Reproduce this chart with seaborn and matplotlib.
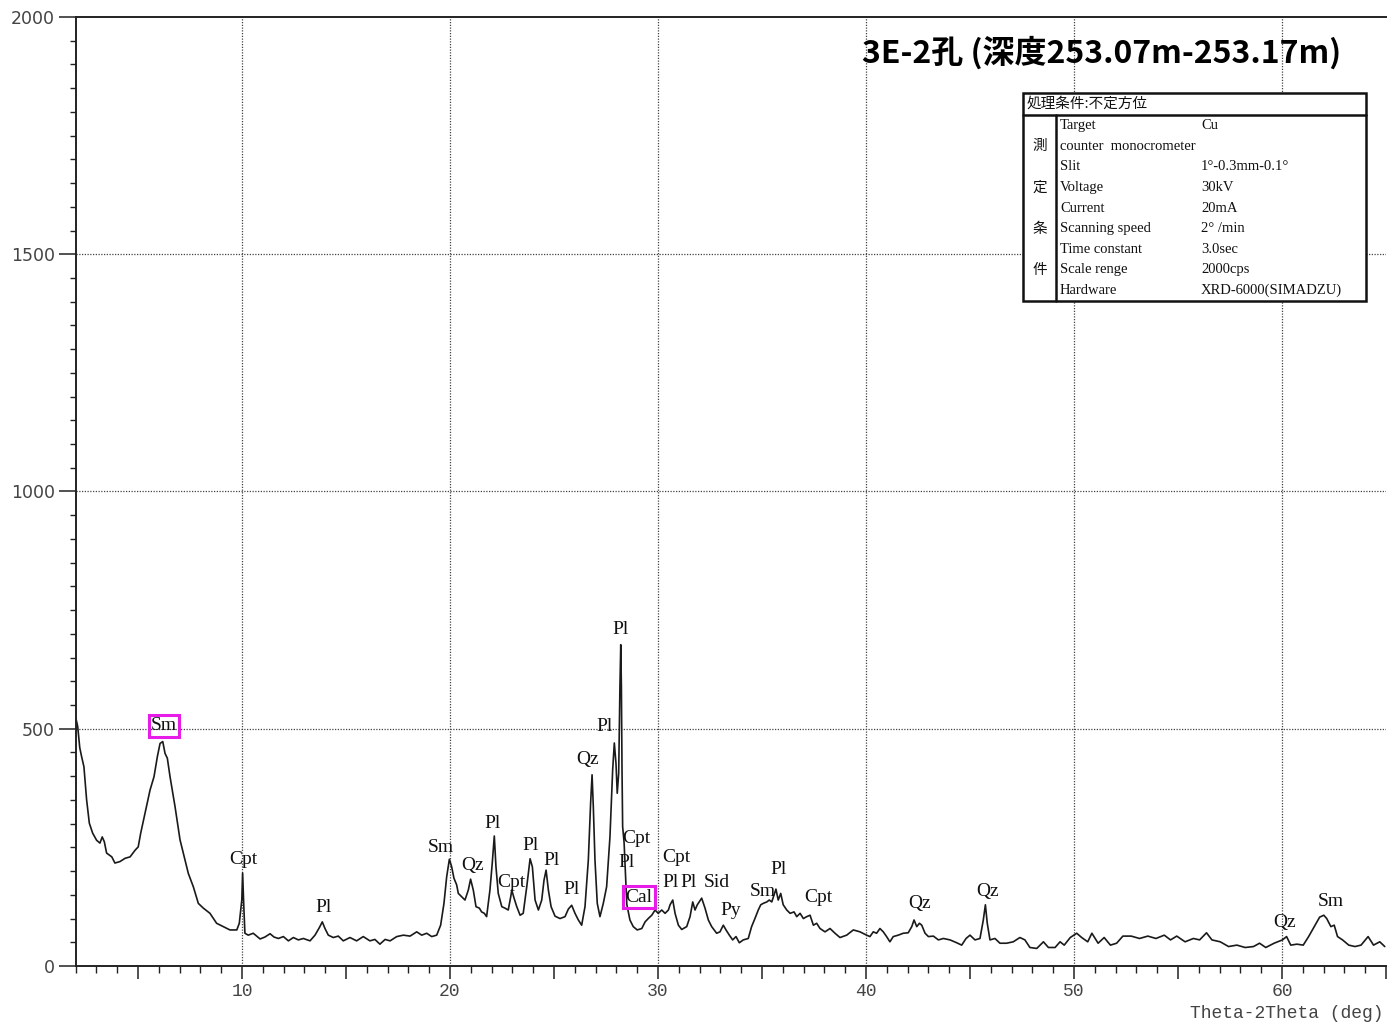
import matplotlib
matplotlib.use("Agg")
import matplotlib.pyplot as plt
from matplotlib.ticker import MultipleLocator, FuncFormatter
from matplotlib.patches import Rectangle
from matplotlib.lines import Line2D
import seaborn as sns
import pandas as pd

# XRD scan, 2θ (deg) and intensity (cps)
two_theta = [
    2.00, 2.10, 2.20, 2.29, 2.40, 2.53, 2.66, 2.82, 3.01, 3.17, 3.28, 3.38, 3.49, 3.74, 3.89,
    4.13, 4.38, 4.62, 4.86, 5.01, 5.13, 5.34, 5.58, 5.77, 5.93, 6.06, 6.19, 6.30, 6.41, 6.54,
    6.78, 7.02, 7.26, 7.42, 7.66, 7.90, 8.14, 8.46, 8.78, 9.10, 9.42, 9.75, 9.87, 9.99, 10.03,
    10.08, 10.14, 10.30, 10.54, 10.87, 11.10, 11.35, 11.54, 11.75, 11.99, 12.23, 12.47, 12.71,
    12.95, 13.27, 13.51, 13.72, 13.86, 13.99, 14.15, 14.39, 14.63, 14.87, 15.19, 15.51, 15.83,
    16.15, 16.39, 16.63, 16.88, 17.12, 17.44, 17.76, 18.08, 18.40, 18.64, 18.88, 19.12, 19.36,
    19.55, 19.71, 19.84, 19.97, 20.08, 20.19, 20.32, 20.40, 20.56, 20.72, 20.88, 20.99, 21.12,
    21.25, 21.41, 21.52, 21.65, 21.76, 21.92, 22.03, 22.13, 22.21, 22.32, 22.49, 22.64, 22.80,
    22.92, 22.97, 23.08, 23.21, 23.37, 23.52, 23.69, 23.85, 23.96, 24.09, 24.25, 24.41, 24.52,
    24.62, 24.73, 24.86, 25.05, 25.29, 25.53, 25.69, 25.85, 26.01, 26.17, 26.33, 26.49, 26.65,
    26.76, 26.83, 26.89, 26.97, 27.08, 27.21, 27.37, 27.53, 27.69, 27.82, 27.90, 27.98, 28.04,
    28.11, 28.17, 28.21, 28.24, 28.27, 28.30, 28.37, 28.43, 28.50, 28.65, 28.81, 29.00, 29.22,
    29.38, 29.53, 29.70, 29.86, 30.01, 30.18, 30.34, 30.50, 30.58, 30.71, 30.82, 30.98, 31.14,
    31.38, 31.54, 31.67, 31.78, 31.89, 32.10, 32.26, 32.42, 32.58, 32.82, 32.98, 33.14, 33.27,
    33.43, 33.59, 33.75, 33.91, 34.10, 34.34, 34.50, 34.66, 34.82, 34.94, 35.06, 35.23, 35.35,
    35.47, 35.67, 35.78, 35.90, 36.02, 36.19, 36.35, 36.54, 36.67, 36.83, 36.99, 37.15, 37.31,
    37.47, 37.63, 37.79, 38.03, 38.27, 38.51, 38.75, 39.07, 39.39, 39.71, 40.03, 40.19, 40.35,
    40.51, 40.67, 40.83, 40.99, 41.15, 41.31, 41.55, 41.79, 42.03, 42.20, 42.31, 42.44, 42.57,
    42.68, 42.84, 43.00, 43.24, 43.48, 43.72, 44.04, 44.36, 44.60, 44.81, 45.00, 45.24, 45.48,
    45.64, 45.74, 45.83, 45.96, 46.20, 46.44, 46.76, 47.08, 47.40, 47.64, 47.88, 48.21, 48.53,
    48.77, 49.09, 49.33, 49.53, 49.82, 50.13, 50.37, 50.66, 50.86, 51.16, 51.45, 51.75, 52.05,
    52.35, 52.75, 53.15, 53.55, 53.94, 54.34, 54.64, 54.94, 55.34, 55.74, 56.04, 56.37, 56.63,
    57.03, 57.43, 57.83, 58.23, 58.63, 58.92, 59.22, 59.62, 60.02, 60.22, 60.42, 60.72, 61.02,
    61.28, 61.55, 61.81, 62.01, 62.15, 62.35, 62.51, 62.67, 62.91, 63.21, 63.51, 63.80, 64.14,
    64.40, 64.70, 64.94,
]
intensity = [
    525, 505, 460, 441, 420, 350, 301, 280, 265, 259, 272, 262, 238, 230, 217,
    220, 227, 230, 244, 251, 280, 322, 371, 399, 441, 469, 473, 448, 438, 399,
    336, 266, 223, 195, 167, 132, 122, 111, 90, 83, 76, 76, 90, 139, 196,
    133, 69, 65, 69, 57, 61, 68, 61, 58, 62, 53, 60, 55,
    58, 53, 65, 81, 93, 79, 65, 60, 63, 53, 60, 53, 62,
    53, 56, 46, 56, 53, 62, 65, 63, 72, 65, 69, 62, 65,
    86, 132, 188, 225, 209, 185, 171, 153, 146, 139, 160, 183, 160,
    125, 122, 114, 111, 104, 160, 216, 274, 209, 153, 125, 122, 118,
    146, 160, 143, 125, 107, 111, 167, 226, 209, 139, 118, 139, 181,
    202, 160, 125, 105, 100, 104, 120, 128, 111, 97, 86, 125, 223,
    343, 403, 336, 223, 132, 104, 132, 167, 272, 413, 470, 427, 364,
    406, 589, 677, 589, 413, 294, 260, 200, 130, 97, 83, 76, 79,
    93, 100, 107, 118, 111, 118, 111, 118, 129, 139, 111, 86, 77,
    83, 104, 135, 118, 129, 143, 122, 97, 83, 69, 72, 86, 76,
    65, 55, 62, 49, 55, 58, 83, 100, 118, 129, 132, 135, 139,
    135, 162, 139, 153, 129, 118, 111, 114, 104, 111, 100, 104, 107,
    86, 90, 79, 72, 79, 69, 60, 65, 76, 72, 65, 62, 72,
    69, 79, 72, 62, 51, 62, 65, 69, 70, 83, 97, 83, 90,
    86, 69, 62, 63, 55, 58, 55, 49, 44, 58, 65, 55, 58,
    97, 129, 90, 55, 58, 48, 48, 51, 60, 55, 39, 37, 51,
    39, 39, 51, 44, 60, 69, 60, 51, 69, 48, 60, 44, 48,
    63, 63, 58, 63, 58, 65, 55, 63, 51, 58, 55, 70, 55,
    51, 41, 44, 39, 41, 48, 39, 48, 55, 62, 44, 46, 44,
    62, 83, 103, 107, 100, 83, 86, 62, 55, 44, 41, 44, 62,
    44, 51, 41,
]

# Phase identifications: label, 2θ, cps of the label anchor, boxed
phase_labels = [
    ("Sm", 6.25, 506, True), ("Cpt", 10.05, 225, False), ("Pl", 13.9, 124, False),
    ("Sm", 19.57, 249, False), ("Qz", 21.1, 211, False), ("Pl", 22.02, 301, False),
    ("Cpt", 22.93, 175, False), ("Pl", 23.85, 255, False), ("Pl", 24.86, 223, False),
    ("Pl", 25.82, 162, False), ("Qz", 26.6, 436, False), ("Pl", 27.41, 504, False),
    ("Pl", 28.18, 710, False), ("Cpt", 28.94, 268, False), ("Pl", 28.5, 219, False),
    ("Cal", 29.09, 145, True), ("Cpt", 30.87, 228, False), ("Pl", 30.58, 177, False),
    ("Pl", 31.49, 177, False), ("Sid", 32.83, 177, False), ("Py", 33.5, 116, False),
    ("Sm", 35.04, 158, False), ("Pl", 35.81, 204, False), ("Cpt", 37.69, 145, False),
    ("Qz", 42.59, 131, False), ("Qz", 45.86, 158, False), ("Qz", 60.14, 91, False),
    ("Sm", 62.35, 135, False),
]

title = "3E-2孔 (深度253.07m-253.17m)"
table_header = "処理条件:不定方位"
table_side = ["測", "定", "条", "件"]
table_keys = ["Target", "counter  monocrometer", "Slit", "Voltage", "Current",
              "Scanning speed", "Time constant", "Scale renge", "Hardware"]
table_values = ["Cu", "", "1°-0.3mm-0.1°", "30kV", "20mA", "2° /min", "3.0sec",
                "2000cps", "XRD-6000(SIMADZU)"]

sns.set_theme(style="white")
plt.rcParams["font.family"] = ["DejaVu Sans", "Noto Sans CJK JP"]

W, H = 1387, 1026
fig = plt.figure(figsize=(W / 100, H / 100), dpi=100)
ax = fig.add_axes([75.6 / W, 1 - 966 / H, (1386 - 75.6) / W, (966 - 17) / H])


def fx(px):
    return px / W


def fy(py):
    return 1 - py / H


df = pd.DataFrame({"two_theta": two_theta, "cps": intensity})
sns.lineplot(data=df, x="two_theta", y="cps", ax=ax, color="#1a1a1a",
             linewidth=1.2, sort=False, estimator=None)

ax.set_xlim(2, 65)
ax.set_ylim(0, 2000)
ax.set_xlabel("")
ax.set_ylabel("")

# Dotted reference grid
for gx in range(10, 61, 10):
    ax.axvline(gx, color="#444444", lw=0.9, ls=(0, (1, 1.2)), zorder=0)
for gy in (500, 1000, 1500):
    ax.axhline(gy, color="#444444", lw=0.9, ls=(0, (1, 1.2)), zorder=0)

for side in ("left", "bottom", "top"):
    ax.spines[side].set_visible(True)
    ax.spines[side].set_color("#222222")
    ax.spines[side].set_linewidth(1.4)
ax.spines["right"].set_visible(False)

ax.xaxis.set_major_locator(MultipleLocator(5))
ax.xaxis.set_minor_locator(MultipleLocator(1))
ax.xaxis.set_major_formatter(FuncFormatter(lambda v, p: f"{int(v)}" if int(v) % 10 == 0 and v >= 10 else ""))
ax.yaxis.set_major_locator(MultipleLocator(500))
ax.yaxis.set_minor_locator(MultipleLocator(50))
ax.tick_params(axis="x", which="major", direction="out", length=9, width=1.1,
               color="#222222", bottom=True, top=False, pad=3,
               labelsize=13, labelcolor="#444444")
ax.tick_params(axis="x", which="minor", direction="out", length=5, width=1.0,
               color="#222222", bottom=True, top=False)
ax.tick_params(axis="y", which="major", direction="out", length=12, width=1.1,
               color="#222222", left=True, right=False, pad=3,
               labelsize=12.5, labelcolor="#444444")
ax.tick_params(axis="y", which="minor", direction="out", length=4, width=1.0,
               color="#222222", left=True, right=False)
for lab in ax.get_xticklabels():
    lab.set_fontfamily("Liberation Mono")

fig.text(fx(1383), fy(1014), "Theta-2Theta (deg)", ha="right", va="center",
         fontsize=13, family="Liberation Mono", color="#444444")

# Phase labels
for name, x, y, boxed in phase_labels:
    kw = {}
    if boxed:
        kw["bbox"] = dict(boxstyle="square,pad=0.12", fc="none", ec="#e81ce8", lw=2.2)
    ax.text(x, y, name, ha="center", va="center", fontsize=14,
            family="Liberation Serif", color="#111111", **kw)

# Title
fig.text(fx(1102), fy(53), title, ha="center", va="center", fontsize=23,
         fontweight="bold", family=["Noto Sans CJK JP", "DejaVu Sans"], color="black")

# Measurement-condition table (opaque, drawn over the grid)
x0, x1, xd = 1023, 1366, 1056
y0, yh, y1 = 93, 115, 301
fig.patches.append(Rectangle((fx(x0), fy(y1)), fx(x1) - fx(x0), fy(y0) - fy(y1),
                             transform=fig.transFigure, fill=True, fc="white",
                             ec="#111111", lw=1.8, zorder=2))
fig.lines.append(Line2D([fx(x0), fx(x1)], [fy(yh), fy(yh)], transform=fig.transFigure,
                        color="#111111", lw=1.8, zorder=2.5))
fig.lines.append(Line2D([fx(xd), fx(xd)], [fy(yh), fy(y1)], transform=fig.transFigure,
                        color="#111111", lw=1.8, zorder=2.5))
fig.text(fx(1027), fy(103.5), table_header, ha="left", va="center", fontsize=10.5,
         family=["Noto Sans CJK JP"], color="#111111", zorder=3)
row_h = (y1 - yh) / len(table_keys)
for i, (k, v) in enumerate(zip(table_keys, table_values)):
    yc = yh + row_h * (i + 0.5)
    fig.text(fx(1060), fy(yc), k, ha="left", va="center", fontsize=10.5,
             family="Liberation Serif", color="#111111", zorder=3)
    if v:
        fig.text(fx(1201), fy(yc), v, ha="left", va="center", fontsize=10.5,
                 family="Liberation Serif", color="#111111", zorder=3)
for j, ch in enumerate(table_side):
    yc = yh + row_h * (2 * j + 1.5)
    fig.text(fx(1040), fy(yc), ch, ha="center", va="center", fontsize=10.5,
             family=["Noto Sans CJK JP"], color="#111111", zorder=3)

fig.savefig("out.png", dpi=100)
